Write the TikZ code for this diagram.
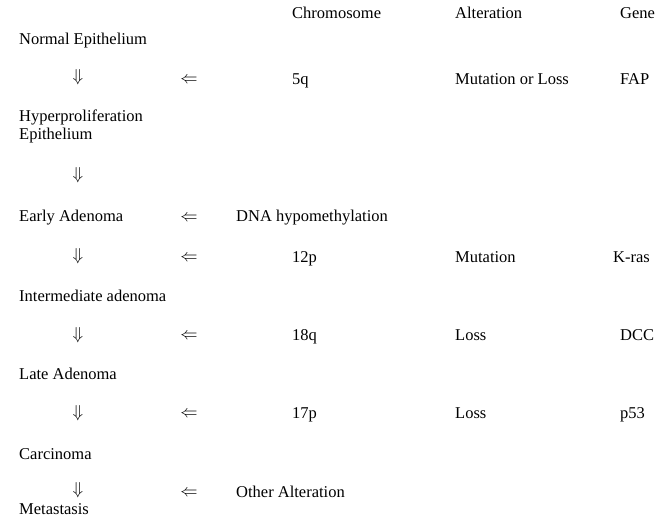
\documentclass[tikz,border=0pt]{standalone}
\usepackage{fontspec}
\setmainfont{Liberation Serif}
\begin{document}
\begin{tikzpicture}[x=1pt,y=-1pt,
  txt/.style={anchor=base west,inner sep=0pt,font=\fontsize{16.5}{19}\selectfont},
  darr/.style={anchor=center,inner sep=0pt,font=\fontsize{17}{19}\selectfont},
  larr/.style={anchor=center,inner sep=0pt,font=\fontsize{17}{19}\selectfont}]
\useasboundingbox (0,0) rectangle (665,518);
% headers
\node[txt] (hc) at (292,19) {Chromosome};
\node[txt] (ha) at (455,19) {Alteration};
\node[txt] (hg) at (620,19) {Gene};
% stages
\node[txt] (s1) at (19,45) {Normal Epithelium};
\node[txt] (s2) at (19,122) {Hyperproliferation};
\node[txt] (s2b) at (19,140) {Epithelium};
\node[txt] (s3) at (19,222) {Early Adenoma};
\node[txt] (s4) at (19,302) {Intermediate adenoma};
\node[txt] (s5) at (19,380) {Late Adenoma};
\node[txt] (s6) at (19,460) {Carcinoma};
\node[txt] (s7) at (19,515) {Metastasis};
% down arrows
\node[darr] (d1) at (78,77) {$\Downarrow$};
\node[darr] (d2) at (78,175) {$\Downarrow$};
\node[darr] (d3) at (78,256) {$\Downarrow$};
\node[darr] (d4) at (78,335) {$\Downarrow$};
\node[darr] (d5) at (78,413) {$\Downarrow$};
\node[darr] (d6) at (78,490) {$\Downarrow$};
% left arrows
\node[larr] (l1) at (189,80) {$\Leftarrow$};
\node[larr] (l2) at (189,218) {$\Leftarrow$};
\node[larr] (l3) at (189,258) {$\Leftarrow$};
\node[larr] (l4) at (189,336) {$\Leftarrow$};
\node[larr] (l5) at (189,414) {$\Leftarrow$};
\node[larr] (l6) at (189,493) {$\Leftarrow$};
% chromosome column
\node[txt] (c1) at (292,85) {5q};
\node[txt] (c2) at (236,222) {DNA hypomethylation};
\node[txt] (c3) at (292,263) {12p};
\node[txt] (c4) at (292,341) {18q};
\node[txt] (c5) at (292,419) {17p};
\node[txt] (c6) at (236,498) {Other Alteration};
% alteration column
\node[txt] (a1) at (455,85) {Mutation or Loss};
\node[txt] (a3) at (455,263) {Mutation};
\node[txt] (a4) at (455,341) {Loss};
\node[txt] (a5) at (455,419) {Loss};
% gene column
\node[txt] (g1) at (620,85) {FAP};
\node[txt] (g3) at (613,263) {K-ras};
\node[txt] (g4) at (620,341) {DCC};
\node[txt] (g5) at (620,419) {p53};
\end{tikzpicture}
\end{document}
